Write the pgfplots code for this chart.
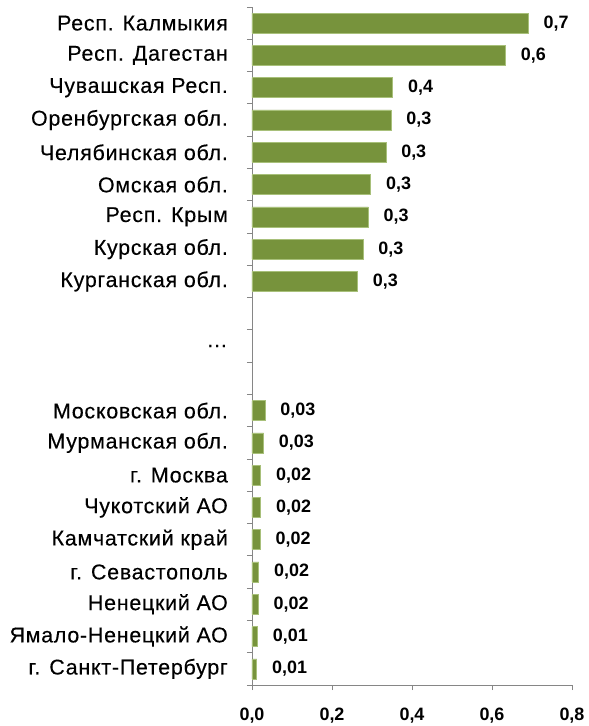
\documentclass[border=0pt]{standalone}
\usepackage{fontspec}
\setmainfont{Liberation Sans}
\newfontfamily\catfont[LetterSpace=3.5, FakeBold=0.3]{Liberation Sans}
\usepackage{pgfplots}
\usepackage{pgfplotstable}
\pgfplotsset{compat=1.18}
\definecolor{barcol}{HTML}{77933C}
\definecolor{bardraw}{HTML}{A8C07A}
\definecolor{axcol}{HTML}{868686}

\pgfplotstableread{
pos v lab
20 0.691 0,7
19 0.634 0,6
18 0.352 0,4
17 0.348 0,3
16 0.335 0,3
15 0.297 0,3
14 0.291 0,3
13 0.278 0,3
12 0.264 0,3
8 0.033 0,03
7 0.029 0,03
6 0.022 0,02
5 0.022 0,02
4 0.021 0,02
3 0.017 0,02
2 0.016 0,02
1 0.014 0,01
0 0.012 0,01
}\datatable

\begin{document}
\begin{tikzpicture}
\useasboundingbox (-252bp,-41bp) rectangle (337bp,685bp);
\begin{axis}[
  at={(0,0)}, anchor=south west,
  scale only axis, width=320bp, height=678bp,
  xbar, bar width=20bp,
  xmin=0, xmax=0.8, ymin=-0.5, ymax=20.5,
  axis x line*=bottom, axis y line*=left,
  axis line style={axcol, line width=0.8pt},
  tick style={axcol, line width=0.8pt},
  tick align=outside,
  major tick length=5bp, minor tick length=5bp,
  every major y tick/.append style={draw=none},
  xtick={0,0.2,0.4,0.6,0.8},
  scaled x ticks=false,
  /pgf/number format/assume math mode=true,
  xticklabel style={font=\fontsize{18}{22}\selectfont\bfseries, inner sep=0pt, yshift=-18bp,
    /pgf/number format/.cd, fixed, fixed zerofill, precision=1, use comma},
  ytick={0,...,20},
  minor ytick={-0.5,0.5,...,20.5},
  yticklabels={г. Санкт-Петербург, Ямало-Ненецкий АО, Ненецкий АО, г. Севастополь, Камчатский край, Чукотский АО, г. Москва, Мурманская обл., Московская обл., {}, {…}, {}, Курганская обл., Курская обл., Респ. Крым, Омская обл., Челябинская обл., Оренбургская обл., Чувашская Респ., Респ. Дагестан, Респ. Калмыкия},
  yticklabel style={font=\catfont\fontsize{21.5}{25}\selectfont, anchor=east, inner sep=0pt, xshift=-19bp},
  nodes near coords,
  point meta=explicit symbolic,
  nodes near coords style={anchor=west, inner sep=0pt, xshift=15bp, font=\fontsize{18}{22}\selectfont\bfseries, text=black},
  clip=false,
]
\addplot[fill=barcol, draw=bardraw, line width=0.6pt] table[x=v, y=pos, meta=lab] {\datatable};
\end{axis}
\end{tikzpicture}
\end{document}
